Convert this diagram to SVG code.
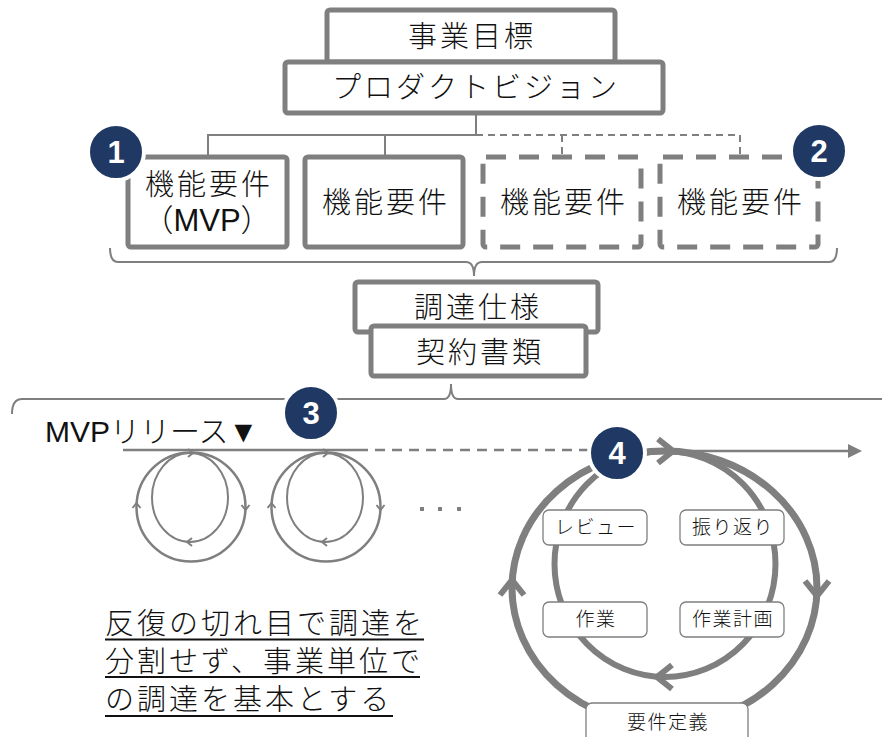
<svg xmlns="http://www.w3.org/2000/svg" width="882" height="737" viewBox="0 0 882 737">
<style>
.box{fill:#fff;stroke:#7f7f7f;stroke-width:5}
.dbox{fill:#fff;stroke:#7f7f7f;stroke-width:5;stroke-dasharray:20 13}
.ln{fill:none;stroke:#7f7f7f;stroke-width:2}
.dln{fill:none;stroke:#7f7f7f;stroke-width:2;stroke-dasharray:7 5}
.lbl{fill:#fff;stroke:#7f7f7f;stroke-width:1.3}
.t{font-family:"Noto Sans CJK JP",sans-serif;font-weight:300;font-size:29px;letter-spacing:3px;fill:#111;text-anchor:middle}
.tm{font-family:"Liberation Sans","Noto Sans CJK JP",sans-serif;font-weight:300;font-size:31px;fill:#111;text-anchor:middle}
.s{font-family:"Noto Sans CJK JP",sans-serif;font-weight:300;font-size:19px;letter-spacing:1.5px;fill:#111;text-anchor:middle}
.note{font-family:"Noto Sans CJK JP",sans-serif;font-weight:300;font-size:29px;letter-spacing:3px;fill:#111}
.badge{fill:#1f3864;stroke:#fff;stroke-width:4}
.bt{font-family:"Liberation Sans",sans-serif;font-weight:bold;font-size:31px;fill:#fff;text-anchor:middle}
.big{fill:none;stroke:#7f7f7f}
.cb{fill:none;stroke:#7f7f7f;stroke-width:6;stroke-linejoin:miter}
.cs{fill:none;stroke:#7f7f7f;stroke-width:2}
</style>
<defs>
<path id="chevB" d="M -15 -12 L 0 0 L -15 12"/>
<path id="chevS" d="M -5 -4 L 0 0 L -5 4"/>
</defs>

<g id="connectors">
  <line class="ln" x1="476" y1="113" x2="476" y2="135"/>
  <polyline class="ln" points="208,157 208,135 476,135"/>
  <line class="ln" x1="385" y1="135" x2="385" y2="157"/>
  <polyline class="dln" points="476,135 740,135 740,157"/>
  <line class="dln" x1="562" y1="135" x2="562" y2="157"/>
  <path class="ln" d="M 110 248 Q 110 262 118 262 L 466 262 Q 474 262 474 276 Q 474 262 482 262 L 829 262 Q 837 262 837 248"/>
  <path class="ln" d="M 12 414 Q 12 399 22 399 L 444 399 Q 451 399 451 384 Q 451 399 458 399 L 882 399"/>
  <line class="ln" x1="123" y1="450" x2="358" y2="450" style="stroke-width:2.5"/>
  <line class="dln" x1="358" y1="450" x2="595" y2="450" style="stroke-width:2.5;stroke-dasharray:10 7"/>
  <line class="ln" x1="672" y1="451" x2="848" y2="451" style="stroke-width:2.5"/>
  <polygon points="848,444 862,451 848,458" fill="#7f7f7f"/>
</g>

<g id="n-goal">
  <rect class="box" x="327" y="10" width="288" height="52" rx="3"/>
  <text class="t" x="472" y="47">事業目標</text>
</g>
<g id="n-vision">
  <rect class="box" x="285" y="62" width="378" height="51" rx="3"/>
  <text class="t" x="476" y="98">プロダクトビジョン</text>
</g>
<g id="n-req1">
  <rect class="box" x="128" y="157" width="159" height="90" rx="3"/>
  <text class="t" x="209" y="195">機能要件</text>
  <text class="tm" x="207" y="231">（MVP）</text>
</g>
<g id="n-req2">
  <rect class="box" x="305" y="157" width="158" height="90" rx="3"/>
  <text class="t" x="386" y="213">機能要件</text>
</g>
<g id="n-req3">
  <rect class="dbox" x="483" y="157" width="158" height="90" rx="3"/>
  <text class="t" x="564" y="213">機能要件</text>
</g>
<g id="n-req4">
  <rect class="dbox" x="660" y="157" width="158" height="90" rx="3"/>
  <text class="t" x="741" y="213">機能要件</text>
</g>
<g id="n-spec">
  <rect class="box" x="355" y="282" width="243" height="50" rx="3"/>
  <text class="t" x="478" y="318">調達仕様</text>
</g>
<g id="n-contract">
  <rect class="box" x="371" y="326" width="215" height="50" rx="3"/>
  <text class="t" x="480" y="363">契約書類</text>
</g>

<g id="mvp-release">
  <text x="45" y="442" style="font-family:'Liberation Sans','Noto Sans CJK JP',sans-serif;font-weight:300;font-size:30px;fill:#111">MVPリリース▼</text>
</g>

<g id="small-cycle-1">
  <ellipse class="cs" cx="191" cy="507" rx="54.5" ry="54.5" style="stroke-width:2.5"/>
  <ellipse class="cs" cx="190" cy="497.5" rx="38" ry="44.5"/>
  <use href="#chevS" class="cs" transform="translate(193,453)"/>
  <use href="#chevS" class="cs" transform="translate(245.5,510) rotate(90)"/>
  <use href="#chevS" class="cs" transform="translate(136.5,503) rotate(-90)"/>
  <use href="#chevS" class="cs" transform="translate(187,542) rotate(180)"/>
</g>
<g id="small-cycle-2">
  <ellipse class="cs" cx="326" cy="507" rx="54.5" ry="54.5" style="stroke-width:2.5"/>
  <ellipse class="cs" cx="325" cy="497.5" rx="38" ry="44.5"/>
  <use href="#chevS" class="cs" transform="translate(328,453)"/>
  <use href="#chevS" class="cs" transform="translate(380.5,510) rotate(90)"/>
  <use href="#chevS" class="cs" transform="translate(271.5,503) rotate(-90)"/>
  <use href="#chevS" class="cs" transform="translate(322,542) rotate(180)"/>
</g>
<g id="ellipsis">
  <rect x="420" y="507" width="4" height="4" fill="#7f7f7f"/>
  <rect x="438" y="507" width="4" height="4" fill="#7f7f7f"/>
  <rect x="457" y="507" width="4" height="4" fill="#7f7f7f"/>
</g>

<g id="big-cycle">
  <ellipse class="big" cx="664.5" cy="588" rx="152.5" ry="137" style="stroke-width:7"/>
  <ellipse class="big" cx="665" cy="564" rx="110.5" ry="113" style="stroke-width:6"/>
  <use href="#chevB" class="cb" transform="translate(673,451)"/>
  <use href="#chevB" class="cb" transform="translate(817,596) rotate(90)"/>
  <use href="#chevB" class="cb" transform="translate(512,580) rotate(-90)"/>
  <use href="#chevB" class="cb" transform="translate(657,677) rotate(180)"/>
</g>

<g id="n-review">
  <rect class="lbl" x="543" y="510" width="104" height="35" rx="6"/>
  <text class="s" x="596" y="534">レビュー</text>
</g>
<g id="n-retro">
  <rect class="lbl" x="680" y="510" width="104" height="35" rx="6"/>
  <text class="s" x="733" y="534">振り返り</text>
</g>
<g id="n-work">
  <rect class="lbl" x="543" y="602" width="104" height="35" rx="6"/>
  <text class="s" x="596" y="626">作業</text>
</g>
<g id="n-plan">
  <rect class="lbl" x="680" y="602" width="104" height="35" rx="6"/>
  <text class="s" x="733" y="626">作業計画</text>
</g>
<g id="n-reqdef">
  <rect class="lbl" x="586" y="703" width="162" height="45" rx="6"/>
  <text class="s" x="668" y="729">要件定義</text>
</g>

<g id="note">
  <text class="note" x="105" y="634">反復の切れ目で調達を</text>
  <text class="note" x="105" y="672">分割せず、事業単位で</text>
  <text class="note" x="105" y="710">の調達を基本とする</text>
  <line x1="105" y1="639.5" x2="424" y2="639.5" stroke="#111" stroke-width="2"/>
  <line x1="105" y1="677" x2="420" y2="677" stroke="#111" stroke-width="2"/>
  <line x1="105" y1="716" x2="393" y2="716" stroke="#111" stroke-width="2"/>
</g>

<g id="badge-1"><circle class="badge" cx="116" cy="152" r="28"/><text class="bt" x="116" y="163">1</text></g>
<g id="badge-2"><circle class="badge" cx="819" cy="151" r="28"/><text class="bt" x="819" y="162">2</text></g>
<g id="badge-3"><circle class="badge" cx="311" cy="413" r="28"/><text class="bt" x="311" y="424">3</text></g>
<g id="badge-4"><circle class="badge" cx="617" cy="453" r="28"/><text class="bt" x="617" y="464">4</text></g>
</svg>
